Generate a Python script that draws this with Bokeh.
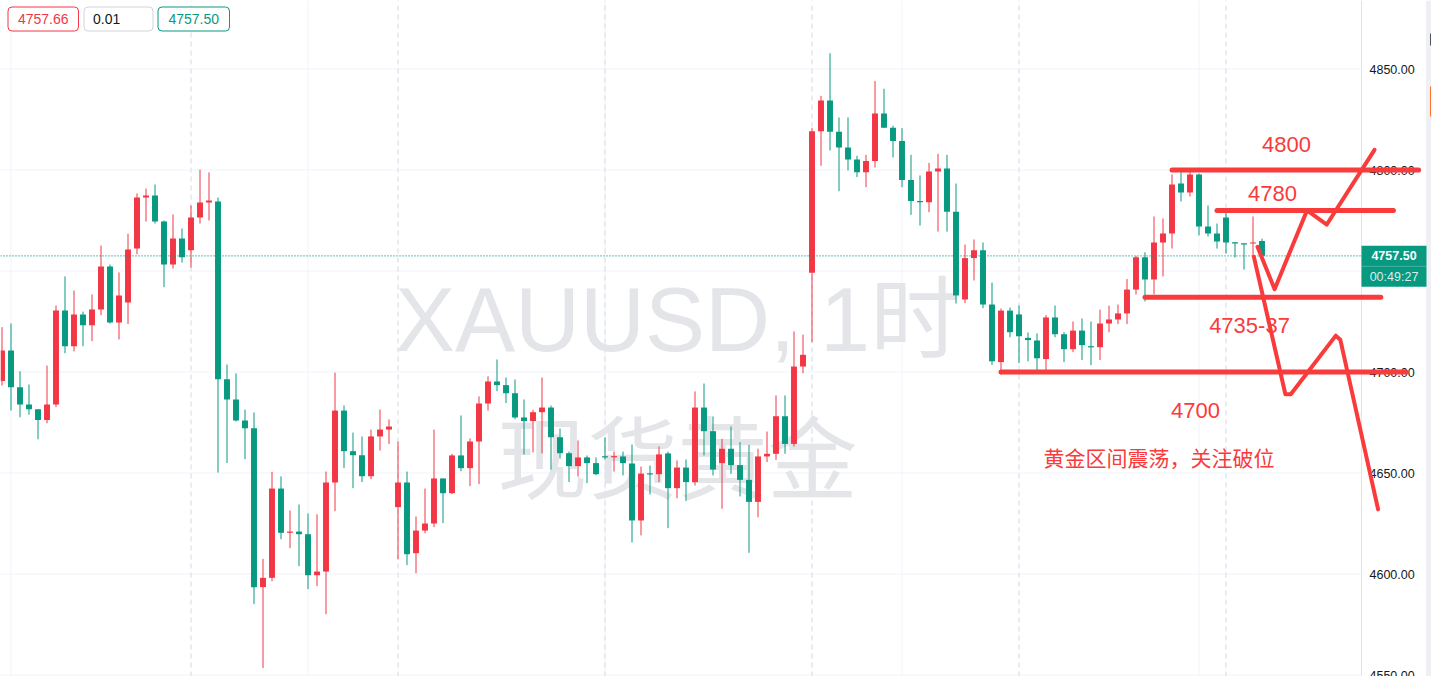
import numpy as np
from bokeh.plotting import figure
from bokeh.models import Range1d, BoxAnnotation, Label
from bokeh.core.properties import value
from bokeh.embed import file_html
from bokeh.resources import INLINE

# ---------------- data ----------------
symbol = "XAUUSD"
interval = "1时"
name_cn = "现货黄金"

# hourly candles, oldest first
opens = [
    4695.5, 4710.6, 4692.5, 4683.9, 4681.6, 4676.2, 4683.9, 4730.4, 4712.8, 4728.5,
    4723.2, 4730.9, 4752.2, 4724.5, 4734.4, 4761.1, 4786.4, 4787.4, 4774.5, 4753.2,
    4766.1, 4760.3, 4776.5, 4783.9, 4784.4, 4696.4, 4686.4, 4676.0, 4672.2, 4593.5,
    4598.1, 4642.3, 4620.4, 4621.0, 4619.7, 4599.4, 4601.2, 4645.3, 4680.9, 4660.8,
    4658.8, 4648.4, 4668.1, 4671.5, 4633.1, 4645.3, 4610.3, 4621.5, 4625.0, 4647.3,
    4640.0, 4658.7, 4652.4, 4665.6, 4684.4, 4695.3, 4693.5, 4689.5, 4677.5, 4675.7,
    4680.1, 4682.4, 4667.7, 4659.8, 4653.4, 4657.7, 4654.9, 4658.2, 4657.9, 4658.2,
    4654.7, 4626.5, 4649.7, 4649.4, 4659.7, 4642.5, 4652.7, 4645.5, 4682.4, 4670.7,
    4654.9, 4662.0, 4653.9, 4646.6, 4635.7, 4658.2, 4659.5, 4678.1, 4664.4, 4702.7,
    4749.1, 4819.2, 4834.4, 4818.9, 4811.1, 4805.2, 4798.9, 4804.5, 4828.0, 4820.9,
    4814.4, 4795.0, 4784.7, 4784.0, 4799.3, 4800.7, 4779.3, 4735.9, 4756.4, 4760.3,
    4733.4, 4704.9, 4730.4, 4728.5, 4716.9, 4715.6, 4706.4, 4727.0, 4718.7, 4711.3,
    4720.5, 4712.6, 4712.3, 4724.0, 4726.0, 4729.0, 4740.8, 4756.8, 4745.8, 4764.1,
    4768.6, 4793.3, 4788.9, 4797.8, 4772.0, 4768.6, 4776.5, 4764.1, 4763.5, 4763.6,
    4764.8,
]
highs = [
    4722.2, 4724.0, 4700.4, 4693.8, 4681.6, 4703.2, 4732.9, 4747.3, 4740.3, 4729.9,
    4738.4, 4762.6, 4753.2, 4749.3, 4768.5, 4788.4, 4790.8, 4792.8, 4775.0, 4778.0,
    4771.0, 4782.4, 4800.2, 4798.8, 4786.4, 4703.7, 4699.3, 4681.4, 4680.0, 4607.5,
    4650.6, 4648.3, 4631.4, 4634.4, 4630.0, 4629.5, 4650.7, 4699.7, 4683.4, 4670.0,
    4668.1, 4671.5, 4681.4, 4676.5, 4665.6, 4650.7, 4628.5, 4642.3, 4671.5, 4647.4,
    4659.5, 4678.5, 4667.1, 4687.9, 4697.9, 4706.2, 4697.3, 4696.3, 4686.4, 4681.3,
    4697.3, 4683.4, 4672.0, 4660.6, 4666.1, 4658.7, 4657.7, 4667.6, 4660.6, 4660.6,
    4664.1, 4653.2, 4653.7, 4663.1, 4660.6, 4656.2, 4656.7, 4690.4, 4694.3, 4678.0,
    4666.9, 4673.0, 4665.3, 4663.9, 4662.0, 4670.5, 4688.4, 4688.4, 4720.1, 4718.5,
    4820.7, 4836.7, 4857.8, 4826.0, 4826.0, 4807.0, 4807.5, 4844.1, 4840.2, 4821.9,
    4820.7, 4807.5, 4797.3, 4803.5, 4808.0, 4807.5, 4793.3, 4763.1, 4765.6, 4764.1,
    4744.3, 4731.4, 4731.9, 4732.9, 4719.6, 4719.1, 4728.2, 4732.9, 4719.7, 4725.0,
    4726.5, 4725.0, 4730.9, 4732.9, 4733.4, 4746.0, 4757.5, 4759.3, 4777.0, 4776.0,
    4797.8, 4800.7, 4800.7, 4798.3, 4782.4, 4773.5, 4779.9, 4764.2, 4763.5, 4777.0,
    4766.0,
]
lows = [
    4693.3, 4680.9, 4677.6, 4678.9, 4666.7, 4674.6, 4682.6, 4709.3, 4710.2, 4712.8,
    4715.3, 4728.1, 4724.0, 4716.1, 4723.7, 4758.3, 4774.5, 4773.5, 4742.0, 4751.2,
    4754.2, 4751.7, 4773.5, 4775.0, 4650.2, 4654.9, 4675.5, 4656.8, 4585.1, 4553.5,
    4596.4, 4617.2, 4612.8, 4603.9, 4592.5, 4594.0, 4580.1, 4631.1, 4652.4, 4642.5,
    4645.5, 4647.0, 4661.1, 4664.3, 4607.3, 4604.4, 4600.4, 4620.2, 4623.2, 4625.2,
    4639.5, 4650.9, 4643.5, 4644.5, 4680.9, 4690.5, 4684.6, 4676.6, 4659.2, 4660.2,
    4659.7, 4651.7, 4657.2, 4645.5, 4648.3, 4645.0, 4648.9, 4656.7, 4650.7, 4648.8,
    4615.6, 4619.1, 4639.4, 4645.5, 4622.7, 4637.5, 4636.1, 4643.8, 4658.7, 4648.8,
    4632.3, 4649.6, 4638.4, 4610.5, 4628.1, 4655.4, 4656.5, 4659.5, 4663.1, 4699.4,
    4714.8, 4802.1, 4809.6, 4789.5, 4799.8, 4796.5, 4791.5, 4801.2, 4820.9, 4806.2,
    4791.5, 4777.8, 4772.5, 4779.1, 4769.5, 4769.5, 4733.9, 4734.1, 4745.3, 4731.6,
    4703.5, 4698.7, 4717.2, 4704.4, 4705.3, 4699.9, 4699.9, 4717.2, 4704.9, 4709.8,
    4705.9, 4703.4, 4705.9, 4719.7, 4723.7, 4723.7, 4738.4, 4734.9, 4738.4, 4747.3,
    4761.1, 4784.4, 4786.9, 4767.6, 4767.1, 4761.1, 4758.7, 4756.7, 4750.7, 4756.4,
    4757.5,
]
closes = [
    4710.6, 4692.5, 4683.9, 4681.6, 4676.2, 4683.9, 4730.4, 4712.8, 4728.5, 4723.2,
    4730.9, 4752.2, 4724.5, 4737.9, 4760.6, 4786.4, 4787.4, 4774.5, 4753.2, 4766.1,
    4756.8, 4776.5, 4783.9, 4784.9, 4696.4, 4686.4, 4676.0, 4672.2, 4593.5, 4598.1,
    4642.3, 4620.4, 4621.0, 4619.7, 4599.4, 4601.2, 4645.3, 4680.9, 4660.8, 4658.8,
    4648.4, 4668.1, 4671.5, 4673.0, 4645.3, 4609.8, 4621.5, 4625.0, 4647.3, 4640.0,
    4658.7, 4652.4, 4665.6, 4684.4, 4695.3, 4693.5, 4689.5, 4677.5, 4675.7, 4680.1,
    4682.4, 4667.7, 4659.8, 4653.4, 4657.7, 4654.9, 4649.4, 4657.8, 4658.2, 4654.9,
    4626.5, 4649.7, 4649.4, 4659.2, 4642.5, 4652.7, 4645.5, 4682.4, 4670.7, 4651.7,
    4662.0, 4653.9, 4646.6, 4635.7, 4658.2, 4659.5, 4678.1, 4664.4, 4702.7, 4708.5,
    4819.2, 4834.4, 4818.9, 4811.1, 4805.2, 4798.9, 4804.5, 4828.0, 4820.9, 4814.4,
    4795.0, 4784.7, 4784.0, 4799.3, 4800.7, 4779.3, 4737.9, 4756.4, 4760.3, 4733.4,
    4705.3, 4730.4, 4719.7, 4717.7, 4715.8, 4706.8, 4727.0, 4718.7, 4711.3, 4720.5,
    4713.3, 4712.4, 4724.0, 4726.0, 4729.0, 4740.8, 4756.8, 4745.8, 4764.1, 4768.6,
    4792.8, 4788.9, 4797.8, 4772.0, 4768.6, 4764.6, 4764.1, 4763.8, 4763.3, 4764.1,
    4757.5,
]

price_ticks = [4550, 4600, 4650, 4700, 4750, 4800, 4850]
time_grid_idx = [1, 34, 67, 100, 133]          # time-axis grid columns
session_idx = [21, 44, 67, 90, 113, 136]       # trading-day separators

ask_price = 4757.66
order_qty = "0.01"
bid_price = closes[-1]
countdown = "00:49:27"

# key levels drawn on the chart
levels = [4800, 4780, 4737, 4700]
level_labels = ["4800", "4780", "4735-37", "4700"]
level_start = [130, 135, 127, 111]
level_end = [157.4, 154.6, 153.2, 156.0]

# projected paths
up_path_x = [139.5, 141.4, 145.0, 147.2, 152.5]
up_path_y = [4762, 4741, 4780, 4773, 4810]
down_path_x = [139.1, 142.6, 143.2, 148.2, 148.7, 152.9]
down_path_y = [4757, 4689, 4689, 4718, 4716, 4632]

note = "黄金区间震荡，关注破位"

# ---------------- layout ----------------
W, H = 1431, 676
STEP = 9.0          # px per candle
X_OFF = 1.5         # px of candle 0 centre
PX_PER_PT = 2.02    # px per price unit
REF_PRICE, REF_PY = 4800.0, 169.5
AXIS_PX = 1361      # left edge of price scale

UP = "#f23645"
DOWN = "#089981"
MARK = "#f93b3b"
GRID = "#f0f3fa"
TEXT = "#131722"
LATIN = "Liberation Sans"
CJK = "Noto Sans CJK SC"


def px_x(px):
    return (px - X_OFF) / STEP


def px_y(py):
    return REF_PRICE - (py - REF_PY) / PX_PER_PT


def dpy(n):
    return n / PX_PER_PT


x0, x1 = px_x(0), px_x(W)
y_top, y_bot = px_y(0), px_y(H)

p = figure(
    width=W, height=H,
    x_range=Range1d(x0, x1), y_range=Range1d(y_bot, y_top),
    output_backend="svg", toolbar_location=None,
    x_axis_location=None, y_axis_location=None,
    min_border=0, outline_line_color=None,
    background_fill_color="white", border_fill_color="white",
)
p.xgrid.visible = False
p.ygrid.visible = False

# grid
p.segment(x0=[x0] * len(price_ticks), x1=[px_x(AXIS_PX)] * len(price_ticks),
          y0=price_ticks, y1=price_ticks, line_color=GRID, line_width=1)
p.segment(x0=time_grid_idx, x1=time_grid_idx,
          y0=[y_bot] * len(time_grid_idx), y1=[y_top] * len(time_grid_idx),
          line_color=GRID, line_width=1)
p.segment(x0=session_idx, x1=session_idx,
          y0=[y_bot] * len(session_idx), y1=[y_top] * len(session_idx),
          line_color="#e3e6ee", line_width=1.6, line_dash="5 4")

# watermark
p.text(x=[px_x(677)], y=[px_y(319)], text=[f"{symbol}, {interval}"],
       text_font=value(f"{LATIN}, {CJK}"), text_font_size="90px",
       text_color="#e4e5e9", text_align="center", text_baseline="alphabetic")
p.text(x=[px_x(677)], y=[px_y(452)], text=[name_cn],
       text_font=value(CJK), text_font_size="90px",
       text_color="#e4e5e9", text_align="center", text_baseline="middle")

# candles
o = np.array(opens)
c = np.array(closes)
hi = np.array(highs)
lo = np.array(lows)
idx = np.arange(len(o))
colors = [UP if cc > oo else DOWN for oo, cc in zip(o, c)]
top = np.maximum(o, c)
bot = np.minimum(o, c)
thin = (top - bot) < dpy(1.2)
mid = (top + bot) / 2
top = np.where(thin, mid + dpy(0.6), top)
bot = np.where(thin, mid - dpy(0.6), bot)

p.segment(x0=idx, x1=idx, y0=lo, y1=hi, line_color=colors, line_width=1)
p.vbar(x=idx, width=0.66, top=top, bottom=bot, fill_color=colors, line_color=None)

# last price line
p.line(x=[x0, px_x(AXIS_PX)], y=[bid_price, bid_price], line_color=DOWN,
       line_width=1.2, line_dash="1 2")

# price scale
p.segment(x0=[px_x(AXIS_PX)], x1=[px_x(AXIS_PX)], y0=[y_bot], y1=[y_top],
          line_color="#e0e3eb", line_width=1)
p.quad(left=[px_x(1425.5)], right=[x1], top=[y_top], bottom=[y_bot],
       fill_color="#eef0f4", line_color=None)
p.quad(left=[px_x(1429.5)], right=[x1], top=[px_y(86)], bottom=[px_y(116)],
       fill_color="#ff6d2e", line_color=None)
p.quad(left=[px_x(1429.5)], right=[x1], top=[px_y(33)], bottom=[px_y(45)],
       fill_color="#50535e", line_color=None)
p.text(x=[px_x(1369)] * len(price_ticks), y=price_ticks,
       text=[f"{t:.2f}" for t in price_ticks],
       text_font=value(LATIN), text_font_size="12.5px", text_color=TEXT,
       text_align="left", text_baseline="middle")

# key levels and labels
p.segment(x0=level_start, x1=level_end, y0=levels, y1=levels,
          line_color=MARK, line_width=5, line_cap="round")
label_px = [(1286, 143.5), (1272, 192.5), (1249, 325), (1195, 410)]
p.text(x=[px_x(a) for a, _ in label_px], y=[px_y(b) for _, b in label_px],
       text=level_labels, text_font=value(LATIN), text_font_size="22px",
       text_color=MARK, text_align="center", text_baseline="middle")
p.text(x=[px_x(1043)], y=[px_y(456)], text=[note], text_font=value(CJK),
       text_font_size="21px", text_color=MARK, text_align="left",
       text_baseline="middle")

# projected paths
p.line(x=up_path_x, y=up_path_y, line_color=MARK, line_width=4,
       line_cap="round", line_join="round")
p.line(x=down_path_x, y=down_path_y, line_color=MARK, line_width=4,
       line_cap="round", line_join="round")

# current price tag
p.quad(left=[px_x(AXIS_PX)], right=[px_x(1426)], top=[bid_price + dpy(10)],
       bottom=[bid_price - dpy(31)], fill_color=DOWN, line_color=None)
p.segment(x0=[px_x(AXIS_PX)], x1=[px_x(1426)], y0=[bid_price - dpy(10.5)],
          y1=[bid_price - dpy(10.5)], line_color="white", line_alpha=0.25, line_width=1)
p.text(x=[px_x(1393.5)], y=[bid_price], text=[f"{bid_price:.2f}"],
       text_font=value(LATIN), text_font_size="12.5px", text_font_style="bold",
       text_color="white", text_align="center", text_baseline="middle")
p.text(x=[px_x(1393.5)], y=[bid_price - dpy(21)], text=[countdown],
       text_font=value(LATIN), text_font_size="12.5px",
       text_color="white", text_alpha=0.85, text_align="center", text_baseline="middle")

# order panel (top-left)
boxes = [
    (7.5, 78.0, UP, f"{ask_price:.2f}", UP, "center"),
    (83.5, 152.5, "#d1d4dc", order_qty, TEXT, "left"),
    (157.5, 229.0, DOWN, f"{bid_price:.2f}", DOWN, "center"),
]
for left, right, border, txt, tcol, align in boxes:
    p.add_layout(BoxAnnotation(left=px_x(left), right=px_x(right),
                               top=px_y(6.5), bottom=px_y(30.5),
                               fill_color="white", fill_alpha=1.0,
                               line_color=border, line_alpha=1.0, line_width=1,
                               border_radius=4))
    tx = (left + right) / 2 if align == "center" else left + 9
    p.add_layout(Label(x=px_x(tx), y=px_y(18.5), text=txt,
                       text_font=LATIN, text_font_size="14px", text_color=tcol,
                       text_align=align, text_baseline="middle"))

open("out.html", "w").write(file_html(p, INLINE))
